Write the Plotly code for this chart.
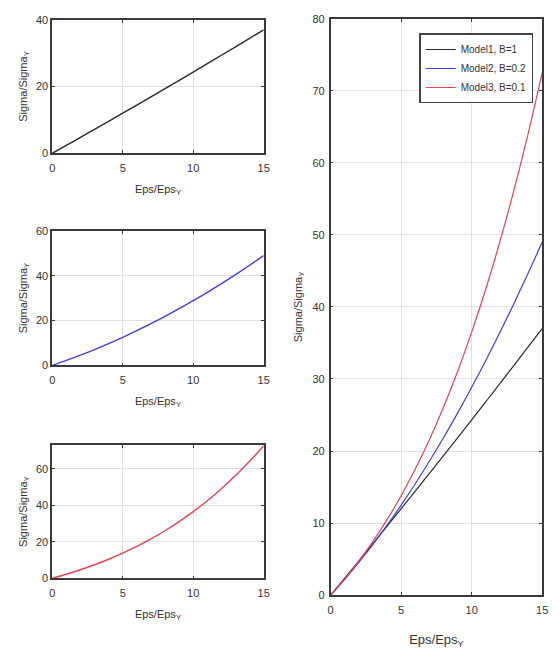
import plotly.graph_objects as go

eps = [0, 1, 2, 3, 4, 5, 6, 7, 8, 9, 10, 11, 12, 13, 14, 15]
model1 = [0, 2.37, 4.76, 7.16, 9.57, 12.0, 14.44, 16.9, 19.36, 21.84, 24.33, 26.84, 29.36, 31.9, 34.45, 37.0]
model2 = [0, 2.19, 4.54, 7.04, 9.70, 12.50, 15.46, 18.58, 21.84, 25.26, 28.84, 32.56, 36.44, 40.48, 44.66, 49.0]
model3 = [0, 2.26, 4.73, 7.46, 10.47, 13.80, 17.49, 21.56, 26.07, 31.04, 36.5, 42.49, 49.06, 56.23, 64.03, 72.51]
names = ["Model1, B=1", "Model2, B=0.2", "Model3, B=0.1"]
colors = ["#2a2a2a", "#4040e0", "#e54452"]

W, H = 560, 661
FONT = "Liberation Sans, Arial, sans-serif"

def px_x(a, b):
    return [a / W, b / W]

def px_y(top, bot):
    return [1 - bot / H, 1 - top / H]

fig = go.Figure()

series = [model1, model2, model3]
# small subplots
for i, (s, c) in enumerate(zip(series, colors)):
    k = i + 1
    fig.add_trace(go.Scatter(x=eps, y=s, mode="lines", line=dict(color=c, width=1.4, shape="spline"),
                             xaxis=f"x{k}", yaxis=f"y{k}", showlegend=False))
# big subplot
for s, c, n in zip(series, colors, names):
    fig.add_trace(go.Scatter(x=eps, y=s, mode="lines", name=n, line=dict(color=c, width=1.2, shape="spline"),
                             xaxis="x4", yaxis="y4"))

ax_common = dict(showline=True, linecolor="#3a3a3a", linewidth=1.6, mirror="ticks",
                 ticks="inside", ticklen=3, tickcolor="#3a3a3a", showgrid=True,
                 gridcolor="#e0e0e0", gridwidth=1, zeroline=False,
                 tickfont=dict(family=FONT, size=11, color="#333333"))

ytitle = dict(text="Sigma/Sigma<sub>Y</sub>", font=dict(family=FONT, size=11, color="#333333"))
xtitle_s = dict(text="Eps/Eps<sub>Y</sub>", font=dict(family=FONT, size=11, color="#333333"), standoff=12)

small_y = [(14, 150), (229, 366), (447, 583)]
yranges = [[0, 40], [0, 60], [0, 73]]
ytickvals = [[0, 20, 40], [0, 20, 40, 60], [0, 20, 40, 60]]

layout = dict(width=W, height=H, margin=dict(l=0, r=0, t=0, b=0),
              paper_bgcolor="white", plot_bgcolor="white", showlegend=True)

for i in range(3):
    k = i + 1
    layout[f"xaxis{k}"] = dict(ax_common, domain=px_x(50, 265), anchor=f"y{k}", range=[0, 15],
                               tickvals=[0, 5, 10, 15], title=xtitle_s, ticklabelstandoff=4)
    layout[f"yaxis{k}"] = dict(ax_common, domain=px_y(*small_y[i]), anchor=f"x{k}", range=yranges[i],
                               tickvals=ytickvals[i], title=dict(ytitle, standoff=6))

layout["xaxis4"] = dict(ax_common, domain=px_x(333, 548), anchor="y4", range=[0, 15],
                        tickvals=[0, 5, 10, 15], ticklabelstandoff=4,
                        title=dict(text="Eps/Eps<sub>Y</sub>", font=dict(family=FONT, size=13, color="#333333"), standoff=20))
layout["yaxis4"] = dict(ax_common, domain=px_y(13, 600), anchor="x4", range=[0, 80],
                        tickvals=list(range(0, 81, 10)), ticklabelstandoff=2, title=dict(ytitle, standoff=8))

layout["legend"] = dict(x=423 / W, y=1 - 28 / H, xanchor="left", yanchor="top",
                        bgcolor="white", bordercolor="#444444", borderwidth=1.5,
                        font=dict(family=FONT, size=10, color="#333333"),
                        tracegroupgap=0, itemwidth=30)

fig.update_layout(**layout)
fig.write_html("out.html")
